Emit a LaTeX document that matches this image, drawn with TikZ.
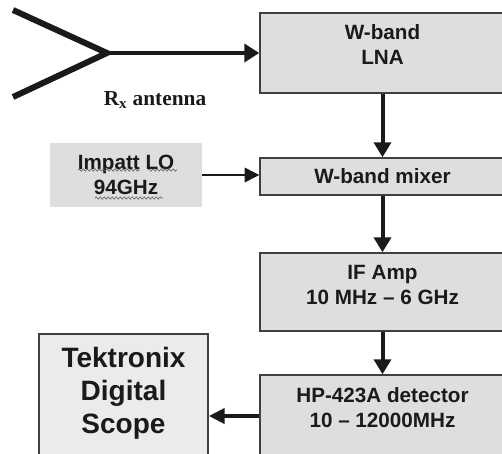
\documentclass[tikz,border=0pt]{standalone}
\usepackage{fontspec}
\setmainfont{Liberation Serif}
\setsansfont{Liberation Sans}
\usetikzlibrary{arrows.meta,decorations.pathmorphing,calc}
\definecolor{boxfill}{HTML}{DEDEDE}
\definecolor{scopefill}{HTML}{EBEBEB}
\definecolor{edgecol}{HTML}{404040}
\definecolor{ink}{HTML}{1A1A1A}
\definecolor{squigcol}{HTML}{606060}
\begin{document}
\begin{tikzpicture}[x=0.75pt,y=-0.75pt,
  box/.style={draw=edgecol, line width=1.1pt, fill=boxfill, minimum width=183.75pt, inner sep=0pt},
  boxtext/.style={font=\sffamily\bfseries\fontsize{15.5}{18.75}\selectfont, text=ink, align=center, inner sep=0pt},
  scopetext/.style={font=\sffamily\bfseries\fontsize{21}{24.75}\selectfont, text=ink, align=center, inner sep=0pt},
  arm/.style={line width=4.5pt, ink},
  feedline/.style={line width=3pt, ink, -{Triangle[length=11.25pt,width=13.5pt]}},
  varr/.style={line width=3pt, ink, -{Triangle[length=11.25pt,width=12.75pt]}},
  harr/.style={line width=3.5pt, ink, -{Triangle[length=12pt,width=11.25pt]}},
  thinarr/.style={line width=1.1pt, ink, -{Triangle[length=11pt,width=11pt]}},
  squig/.style={squigcol, line width=0.5pt, decorate, decoration={snake, amplitude=0.8pt, segment length=3pt}}
]
\useasboundingbox (0,0) rectangle (502,453);
\clip (0,0) rectangle (502,453);

% right column boxes
\node[box, minimum height=60pt] (lna) at (382.5,53) {};
\node[boxtext] (lnat) at (382.5,45) {W-band\\LNA};
\node[box, minimum height=27.75pt, boxtext] (mixer) at (382.5,176.5) {W-band mixer};
\node[box, minimum height=58.5pt] (ifamp) at (382.5,292) {};
\node[boxtext] (ifampt) at (382.5,285) {IF Amp\\10 MHz -- 6 GHz};
\node[box, minimum height=67.5pt] (hp) at (382.5,420) {};
\node[boxtext] (hpt) at (382.5,408) {HP-423A detector\\10 -- 12000MHz};

% scope
\node[box, fill=scopefill, minimum width=126.75pt, minimum height=102pt] (scope) at (123.5,402) {};
\node[scopetext] (scopet) at (123.5,393) {Tektronix\\Digital\\Scope};

% Impatt LO
\node[fill=boxfill, minimum width=114pt, minimum height=48pt, boxtext] (impatt) at (126,175) {Impatt LO\\94GHz};
\draw[squig] ($(impatt.center)+(-48,-5)$) -- ($(impatt.center)+(14,-5)$);
\draw[squig] ($(impatt.center)+(22,-5)$) -- ($(impatt.center)+(51,-5)$);
\draw[squig] ($(impatt.center)+(-31,23)$) -- ($(impatt.center)+(37,23)$);

% antenna
\coordinate (feed) at (107,53);
\coordinate (armtop) at (13,10);
\coordinate (armbot) at (13,97);
\draw[arm] (armtop) -- (feed) -- (armbot);
\draw[feedline] (feed) -- (lna.west |- feed);
\node[font=\rmfamily\bfseries\fontsize{16}{19}\selectfont, text=ink] (rxlabel) at (155,100) {R\textsubscript{x} antenna};

% connectors
\draw[varr] (lna) -- (mixer);
\draw[varr] (mixer) -- (ifamp);
\draw[varr] (ifamp) -- (hp);
\draw[thinarr] (impatt.east) -- (impatt.east -| mixer.west);
\coordinate (arrowy) at (0,416);
\draw[harr] (hp.west |- arrowy) -- (scope.east |- arrowy);
\end{tikzpicture}
\end{document}
